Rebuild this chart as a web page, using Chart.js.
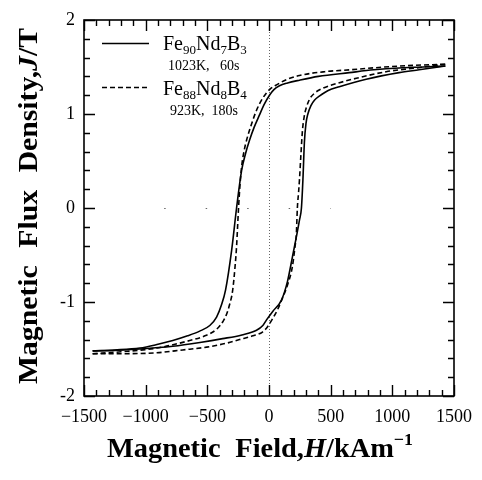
<!DOCTYPE html>
<html>
<head>
<meta charset="utf-8">
<script src="https://cdn.jsdelivr.net/npm/chart.js@4"></script>
<style>
html,body{margin:0;padding:0;background:#fff;}
canvas{display:block;}
</style>
</head>
<body>
<canvas id="c" width="482" height="480"></canvas>
<script>
// ---- Data ----
// Fe90Nd7B3, 1023K 60s (solid) : upper (demagnetising) branch, sorted by H
const H_SOLID_UP = [-1430,-1250,-1047,-900,-780,-660,-562,-480,-425,-385,-352,-303,-263,-222,-190,-158,-120,-77,-40,4,40,85,150,247,400,651,850,1055,1250,1430];
const J_SOLID_UP = [-1.52,-1.51,-1.49,-1.45,-1.41,-1.36,-1.31,-1.25,-1.16,-1.03,-0.87,-0.45,0,0.40,0.58,0.72,0.86,0.99,1.10,1.20,1.26,1.30,1.33,1.36,1.40,1.44,1.47,1.49,1.50,1.51];
// solid : lower (magnetising) branch
const H_SOLID_LO = [-1430,-1250,-1047,-780,-560,-376,-220,-101,-50,-20,30,101,150,190,220,247,263,275,287,300,315,340,370,408,480,570,788,1055,1217,1430];
const J_SOLID_LO = [-1.52,-1.515,-1.50,-1.47,-1.43,-1.39,-1.35,-1.30,-1.25,-1.19,-1.10,-0.98,-0.78,-0.52,-0.32,-0.13,0,0.30,0.70,0.90,1.00,1.09,1.15,1.19,1.25,1.29,1.37,1.44,1.47,1.51];
// Fe88Nd8B4, 923K 180s (dashed) : upper branch
const H_DASH_UP = [-1430,-1200,-910,-643,-520,-425,-370,-344,-320,-295,-275,-263,-247,-235,-222,-200,-182,-140,-101,-50,4,61,150,247,450,651,1055,1430];
const J_DASH_UP = [-1.55,-1.53,-1.49,-1.41,-1.36,-1.29,-1.20,-1.13,-1.03,-0.88,-0.62,-0.41,0,0.25,0.44,0.62,0.72,0.90,1.04,1.17,1.26,1.31,1.37,1.41,1.45,1.47,1.51,1.53];
// dashed : lower branch
const H_DASH_LO = [-1430,-1200,-910,-700,-505,-350,-239,-130,-53,-10,28,70,109,150,190,210,222,230,240,247,258,271,285,303,330,368,430,513,708,950,1193,1430];
const J_DASH_LO = [-1.55,-1.55,-1.54,-1.51,-1.48,-1.44,-1.40,-1.36,-1.32,-1.26,-1.18,-1.08,-0.96,-0.82,-0.62,-0.42,-0.27,0,0.17,0.30,0.55,0.82,0.97,1.07,1.16,1.22,1.27,1.31,1.38,1.45,1.49,1.53];

const X_MIN = -1500, X_MAX = 1500, X_STEP = 500, X_MINOR = 100;
const Y_MIN = -2, Y_MAX = 2, Y_STEP = 1, Y_MINOR = 0.2;

const SERIF = '"Liberation Serif", "Times New Roman", serif';

function pts(hs, js){ return hs.map((h,i)=>({x:h, y:js[i]})); }

function lineDs(hs, js, dash){
  return {
    data: pts(hs, js),
    showLine: true,
    borderColor: '#000',
    borderWidth: 1.6,
    borderDash: dash,
    pointRadius: 0,
    fill: false,
    cubicInterpolationMode: 'monotone'
  };
}

function drawRuns(ctx, runs, x, y){
  let cx = x;
  for (const r of runs){
    ctx.font = r.f;
    ctx.fillText(r.t, cx, y + (r.dy||0));
    cx += ctx.measureText(r.t).width + (r.gap||0);
  }
  return cx - x;
}
function runsWidth(ctx, runs){
  let w = 0;
  for (const r of runs){ ctx.font = r.f; w += ctx.measureText(r.t).width + (r.gap||0); }
  return w;
}

const decor = {
  id: 'decor',
  beforeDatasetsDraw(chart){
    const {ctx, chartArea:a, scales:{x, y}} = chart;
    ctx.save();
    ctx.strokeStyle = '#666';
    ctx.lineWidth = 1;
    ctx.setLineDash([1,2]);
    const x0 = Math.round(x.getPixelForValue(0)) + 0.5;
    ctx.beginPath(); ctx.moveTo(x0, a.top); ctx.lineTo(x0, a.bottom); ctx.stroke();
    ctx.setLineDash([1.5,40]);
    const y0 = Math.round(y.getPixelForValue(0)) + 0.5;
    ctx.beginPath(); ctx.moveTo(x.getPixelForValue(-850), y0); ctx.lineTo(x.getPixelForValue(500), y0); ctx.stroke();
    ctx.restore();
  },
  afterDraw(chart){
    const {ctx, chartArea:a, scales:{x, y}} = chart;
    ctx.save();
    ctx.setLineDash([]);
    ctx.strokeStyle = '#000';
    ctx.fillStyle = '#000';
    // frame
    ctx.lineWidth = 1.6;
    ctx.strokeRect(a.left, a.top, a.right - a.left, a.bottom - a.top);
    // inward ticks
    ctx.lineWidth = 1.4;
    ctx.beginPath();
    const nx = Math.round((X_MAX - X_MIN) / X_MINOR);
    for (let i = 0; i <= nx; i++){
      const v = X_MIN + i * X_MINOR;
      const major = Math.abs(v % X_STEP) < 1e-6;
      const len = major ? 11 : 6;
      const px = Math.round(x.getPixelForValue(v)) + 0.5;
      ctx.moveTo(px, a.bottom); ctx.lineTo(px, a.bottom - len);
      ctx.moveTo(px, a.top); ctx.lineTo(px, a.top + len);
    }
    const ny = Math.round((Y_MAX - Y_MIN) / Y_MINOR);
    for (let i = 0; i <= ny; i++){
      const v = Y_MIN + i * Y_MINOR;
      const major = Math.abs(v / Y_STEP - Math.round(v / Y_STEP)) < 1e-6;
      const len = major ? 11 : 6;
      const py = Math.round(y.getPixelForValue(v)) + 0.5;
      ctx.moveTo(a.left, py); ctx.lineTo(a.left + len, py);
      ctx.moveTo(a.right, py); ctx.lineTo(a.right - len, py);
    }
    ctx.stroke();

    // legend
    const F = '20px ' + SERIF, S = '13px ' + SERIF, SM = '14px ' + SERIF;
    ctx.lineWidth = 1.6;
    ctx.beginPath(); ctx.moveTo(102, 43.5); ctx.lineTo(149, 43.5); ctx.stroke();
    ctx.setLineDash([5,3]);
    ctx.beginPath(); ctx.moveTo(102, 87.5); ctx.lineTo(149, 87.5); ctx.stroke();
    ctx.setLineDash([]);
    ctx.textBaseline = 'alphabetic';
    ctx.textAlign = 'left';
    drawRuns(ctx, [
      {t:'Fe', f:F}, {t:'90', f:S, dy:4}, {t:'Nd', f:F}, {t:'7', f:S, dy:4}, {t:'B', f:F}, {t:'3', f:S, dy:4}
    ], 163, 50);
    drawRuns(ctx, [{t:'1023K,   60s', f:SM}], 168, 70);
    drawRuns(ctx, [
      {t:'Fe', f:F}, {t:'88', f:S, dy:4}, {t:'Nd', f:F}, {t:'8', f:S, dy:4}, {t:'B', f:F}, {t:'4', f:S, dy:4}
    ], 163, 95);
    drawRuns(ctx, [{t:'923K,  180s', f:SM}], 170, 115);

    // axis titles
    const B = 'bold 27px ' + SERIF, BI = 'italic bold 27px ' + SERIF, BS = 'bold 17px ' + SERIF;
    const xr = [
      {t:'Magnetic', f:B, gap:14}, {t:'Field,', f:B}, {t:'H', f:BI}, {t:'/kAm', f:B}, {t:'\u22121', f:BS, dy:-12}
    ];
    ctx.save();
    const xw = runsWidth(ctx, xr);
    ctx.translate(107, 457);
    ctx.scale(306 / xw, 1);
    drawRuns(ctx, xr, 0, 0);
    ctx.restore();

    const yr = [
      {t:'Magnetic', f:B, gap:16}, {t:'Flux', f:B, gap:16}, {t:'Density,', f:B}, {t:'J', f:BI}, {t:'/T', f:B}
    ];
    ctx.save();
    const yw = runsWidth(ctx, yr);
    ctx.translate(37, 384);
    ctx.rotate(-Math.PI / 2);
    ctx.scale(356 / yw, 1);
    drawRuns(ctx, yr, 0, 0);
    ctx.restore();

    ctx.restore();
  }
};

new Chart(document.getElementById('c'), {
  type: 'scatter',
  data: {
    datasets: [
      lineDs(H_SOLID_UP, J_SOLID_UP, []),
      lineDs(H_SOLID_LO, J_SOLID_LO, []),
      lineDs(H_DASH_UP, J_DASH_UP, [5,3]),
      lineDs(H_DASH_LO, J_DASH_LO, [5,3])
    ]
  },
  options: {
    responsive: false,
    animation: false,
    devicePixelRatio: 1,
    layout: { padding: { top: 20, right: 27, left: 0, bottom: 0 } },
    plugins: { legend: { display: false }, tooltip: { enabled: false } },
    scales: {
      x: {
        type: 'linear', min: X_MIN, max: X_MAX,
        grid: { display: false, drawTicks: false },
        border: { display: false },
        afterFit(s){ s.height = 84; },
        ticks: {
          stepSize: X_STEP, autoSkip: false, maxRotation: 0, padding: 10,
          color: '#000', font: { family: SERIF, size: 18 },
          callback: v => (v < 0 ? '\u2212' + Math.abs(v) : String(v))
        }
      },
      y: {
        type: 'linear', min: Y_MIN, max: Y_MAX,
        grid: { display: false, drawTicks: false },
        border: { display: false },
        afterFit(s){ s.width = 84; },
        ticks: {
          stepSize: Y_STEP, padding: 9,
          color: '#000', font: { family: SERIF, size: 18 },
          callback: v => String(v)
        }
      }
    }
  },
  plugins: [decor]
});
</script>
</body>
</html>
